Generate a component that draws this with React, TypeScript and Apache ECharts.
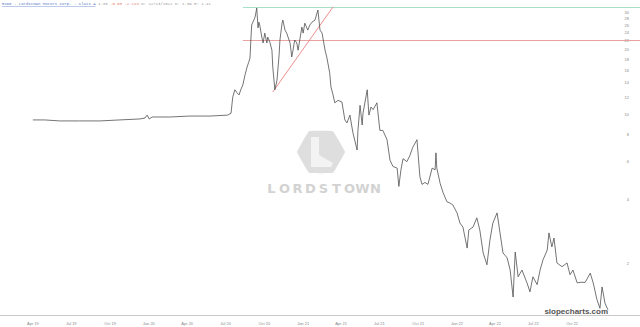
import React, { useEffect, useRef } from 'react';
import * as echarts from 'echarts';

const dates = [
  '2019-04-01','2019-04-29','2019-06-04','2019-07-21','2019-09-07','2019-10-24','2019-12-11','2019-12-23','2019-12-28','2020-01-02',
  '2020-01-09','2020-02-20','2020-04-07','2020-05-25','2020-07-06','2020-07-14','2020-07-18','2020-07-23','2020-07-28','2020-08-02',
  '2020-08-06','2020-08-11','2020-08-16','2020-08-21','2020-08-25','2020-08-28','2020-08-30','2020-09-01','2020-09-06','2020-09-09',
  '2020-09-13','2020-09-16','2020-09-18','2020-09-20','2020-09-25','2020-09-28','2020-10-02','2020-10-07','2020-10-09','2020-10-14',
  '2020-10-19','2020-10-21','2020-10-26','2020-10-31','2020-11-05','2020-11-07','2020-11-12','2020-11-14','2020-11-19','2020-11-23',
  '2020-12-01','2020-12-05','2020-12-08','2020-12-12','2020-12-17','2020-12-20','2020-12-24','2020-12-29','2021-01-01','2021-01-05',
  '2021-01-12','2021-01-17','2021-01-22','2021-01-29','2021-02-03','2021-02-05','2021-02-10','2021-02-15','2021-02-22','2021-02-26',
  '2021-03-05','2021-03-08','2021-03-13','2021-03-17','2021-03-25','2021-04-03','2021-04-10','2021-04-15','2021-04-22','2021-04-29',
  '2021-05-09','2021-05-11','2021-05-16','2021-05-21','2021-05-23','2021-06-02','2021-06-06','2021-06-11','2021-06-16','2021-06-25',
  '2021-07-02','2021-07-09','2021-07-19','2021-07-26','2021-08-02','2021-08-12','2021-08-16','2021-08-21','2021-08-26','2021-09-04',
  '2021-09-11','2021-09-18','2021-09-28','2021-10-05','2021-10-10','2021-10-17','2021-10-24','2021-11-03','2021-11-10','2021-11-12',
  '2021-11-14','2021-11-22','2021-11-29','2021-12-08','2021-12-15','2021-12-22','2022-01-01','2022-01-08','2022-01-15','2022-01-25',
  '2022-01-29','2022-02-08','2022-02-17','2022-02-24','2022-03-04','2022-03-13','2022-03-20','2022-03-27','2022-04-06','2022-04-13',
  '2022-04-20','2022-04-30','2022-05-07','2022-05-14','2022-05-19','2022-05-26','2022-06-04','2022-06-16','2022-06-23','2022-06-30',
  '2022-07-10','2022-07-17','2022-07-24','2022-08-03','2022-08-07','2022-08-14','2022-08-19','2022-08-26','2022-09-07','2022-09-19',
  '2022-09-26','2022-10-03','2022-10-13','2022-10-20','2022-11-01','2022-11-13','2022-11-20','2022-11-29','2022-12-06','2022-12-11',
  '2022-12-18','2022-12-25',
];

const prices = [
  9.4, 9.4, 9.3, 9.3, 9.3, 9.4, 9.5, 9.6, 9.9, 9.5,
  9.7, 9.7, 9.8, 9.8, 9.9, 10.1, 12.0, 13.0, 12.6, 12.3,
  13.0, 13.7, 15.2, 16.6, 17.5, 18.3, 22.2, 26.1, 27.5, 28.4,
  31.3, 25.3, 26.9, 26.1, 22.9, 21.5, 23.9, 21.5, 22.9, 21.7,
  19.9, 16.6, 13.0, 14.4, 18.9, 22.2, 26.6, 27.5, 24.7, 23.9,
  21.5, 18.5, 19.9, 22.2, 21.5, 19.9, 22.2, 25.5, 23.9, 26.6,
  24.7, 26.1, 26.9, 27.5, 29.7, 30.65, 24.7, 23.9, 19.9, 18.5,
  15.6, 13.4, 12.3, 11.3, 11.6, 11.4, 9.4, 9.1, 9.9, 8.2,
  6.8, 8.4, 11.0, 8.9, 10.1, 13.0, 9.9, 10.8, 10.5, 11.3,
  8.4, 8.4, 7.6, 6.1, 5.7, 5.6, 4.6, 5.5, 6.2, 6.0,
  6.4, 7.0, 7.6, 5.1, 4.7, 4.8, 4.7, 5.6, 5.5, 6.6,
  5.6, 4.75, 4.3, 3.9, 3.85, 3.77, 3.46, 3.1, 2.97, 2.37,
  2.88, 2.97, 3.28, 2.88, 2.25, 1.98, 2.58, 3.1, 3.46, 2.79,
  2.25, 2.13, 1.87, 1.40, 2.27, 1.74, 1.87, 1.63, 1.48, 1.74,
  1.60, 1.87, 2.09, 2.32, 2.79, 2.40, 2.64, 2.02, 1.94, 2.02,
  1.78, 1.87, 1.63, 1.64, 1.64, 1.81, 1.63, 1.36, 1.24, 1.56,
  1.31, 1.22,
];

const quarterTicks = [
  '2019-04-01','2019-07-01','2019-10-01','2020-01-01','2020-04-01','2020-07-01','2020-10-01','2021-01-01',
  '2021-04-01','2021-07-01','2021-10-01','2022-01-01','2022-04-01','2022-07-01','2022-10-01',
];
const priceTicks = [2, 4, 6, 8, 10, 12, 14, 16, 18, 20, 22, 24, 26, 28, 30];

const resistanceLevel = 31.7;
const supportLevel = 22.2;
const levelStart = '2020-08-11';
const trendStartDate = '2020-10-21';
const trendStartPrice = 12.7;
const trendEndDate = '2021-03-13';
const trendEndPrice = 31.7;

const xMin = '2019-01-13';
const xMax = '2023-03-11';
const yMin = 1.154;
const yMax = 33.05;

const titleName = 'RIDE - Lordstown Motors Corp. - Class A';
const titleLast = '1.33';
const titleChange = '-0.03 -2.21%';
const titleInfo = 'D: 12/13/2022 O: 1.39 H: 1.41';

const MONTHS = ['Jan','Feb','Mar','Apr','May','Jun','Jul','Aug','Sep','Oct','Nov','Dec'];

const ts = (s: string) => {
  const [y, m, d] = s.split('-').map(Number);
  return new Date(y, m - 1, d).getTime();
};

export default function App() {
  const ref = useRef<HTMLDivElement>(null);
  useEffect(() => {
    if (!ref.current) return;
    const chart = echarts.init(ref.current, null, { renderer: 'svg' });
    const data = dates.map((d, i) => [ts(d), prices[i]]);
    const hexCx = 321, hexCy = 152, hexR = 24;
    const hex: number[][] = [];
    for (let k = 0; k < 6; k++) {
      const a = (Math.PI / 3) * k;
      hex.push([hexCx + hexR * Math.cos(a), hexCy + hexR * Math.sin(a)]);
    }
    const brand = 'LORDSTOWN';
    const letters = brand.split('').map((ch, i) => ({
      type: 'text',
      x: 271.5 + i * 13,
      y: 188,
      z: 0,
      silent: true,
      style: {
        text: ch,
        fill: '#d2d2d2',
        font: 'bold 13px "DejaVu Sans"',
        align: 'center',
        verticalAlign: 'middle',
      },
    }));
    const titleWidth = titleName.length * 2.4;
    chart.setOption({
      animation: false,
      backgroundColor: '#ffffff',
      grid: { left: 0, right: 0, top: 3, bottom: 12, containLabel: false },
      xAxis: {
        type: 'value',
        min: ts(xMin),
        max: ts(xMax),
        axisLine: { show: true, lineStyle: { color: '#c8c8c8', width: 1 } },
        axisTick: { show: false },
        splitLine: { show: false },
        axisLabel: {
          customValues: quarterTicks.map(ts),
          formatter: (v: number) => {
            const d = new Date(v);
            return `${MONTHS[d.getMonth()]} ${String(d.getFullYear()).slice(2)}`;
          },
          fontSize: 4,
          color: '#888',
          margin: 6,
          fontFamily: 'Liberation Sans',
        },
      },
      yAxis: {
        type: 'log',
        position: 'right',
        min: yMin,
        max: yMax,
        axisLine: { show: false },
        axisTick: { show: false },
        splitLine: { show: false },
        axisLabel: {
          inside: true,
          customValues: priceTicks,
          formatter: (v: number) => String(Math.round(v)),
          fontSize: 4,
          color: '#888',
          margin: 11,
          fontFamily: 'Liberation Sans',
        },
      },
      graphic: [
        { type: 'polygon', z: 0, silent: true, shape: { points: hex, smooth: 0.05 }, style: { fill: '#dedede' } },
        {
          type: 'polygon', z: 0, silent: true,
          shape: { points: [[311, 137], [319, 137], [319, 155], [333, 163], [331, 167], [311, 167]] },
          style: { fill: '#f3f3f3' },
        },
        ...letters,
        {
          type: 'text', x: 2, y: 4, z: 10, silent: true,
          style: {
            text: `{b|${titleName}} {g|${titleLast}} {r|${titleChange}} {g|${titleInfo}}`,
            verticalAlign: 'middle',
            rich: {
              b: { fill: '#5a78c8', font: '4px "Liberation Mono"' },
              g: { fill: '#999', font: '4px "Liberation Mono"' },
              r: { fill: '#e07a6a', font: '4px "Liberation Mono"' },
            },
            font: '4px "Liberation Mono"',
          },
        },
        {
          type: 'line', z: 10, silent: true,
          shape: { x1: 2, y1: 6.5, x2: 2 + titleWidth, y2: 6.5 },
          style: { stroke: '#5a78c8', lineWidth: 0.4 },
        },
        {
          type: 'text', x: 608, y: 311, z: 10, silent: true,
          style: {
            text: 'slopecharts.com',
            fill: '#555',
            font: 'bold 8px "Liberation Sans"',
            align: 'right',
            verticalAlign: 'middle',
          },
        },
      ],
      series: [
        {
          type: 'line',
          data,
          showSymbol: false,
          symbol: 'none',
          z: 5,
          lineStyle: { color: '#505050', width: 0.8 },
          markLine: {
            silent: true,
            symbol: ['none', 'none'],
            label: { show: false },
            emphasis: { disabled: true },
            lineStyle: { type: 'solid', width: 0.8 },
            data: [
              [
                { coord: [ts(levelStart), resistanceLevel], lineStyle: { color: '#8fd8b8', type: 'solid', width: 0.8 } },
                { coord: [ts(xMax), resistanceLevel] },
              ],
              [
                { coord: [ts(levelStart), supportLevel], lineStyle: { color: '#e58b8b', type: 'solid', width: 0.8 } },
                { coord: [ts(xMax), supportLevel] },
              ],
              [
                { coord: [ts(trendStartDate), trendStartPrice], lineStyle: { color: '#e87070', type: 'solid', width: 0.8 } },
                { coord: [ts(trendEndDate), trendEndPrice] },
              ],
            ],
          },
        },
      ],
    });
    return () => chart.dispose();
  }, []);
  return (
    <div
      ref={ref}
      style={{ position: 'fixed', left: 0, top: 0, width: 640, height: 327, background: '#fff' }}
    />
  );
}
